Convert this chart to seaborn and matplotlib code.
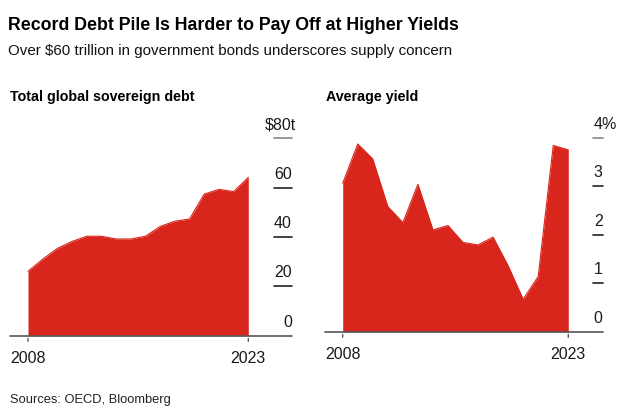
import matplotlib
matplotlib.use("Agg")
import matplotlib.pyplot as plt
import matplotlib.transforms as mtransforms
import seaborn as sns
import pandas as pd

years = list(range(2008, 2024))
debt = [26.1, 31.0, 35.4, 38.2, 40.3, 40.3, 39.2, 39.2, 40.3, 44.3, 46.4, 47.3, 57.4, 59.3, 58.4, 64.2]
yield_pct = [3.06, 3.87, 3.56, 2.58, 2.25, 3.04, 2.10, 2.19, 1.84, 1.79, 1.95, 1.36, 0.67, 1.14, 3.84, 3.75]

debt_ticks = [0, 20, 40, 60, 80]
yield_ticks = [0, 1, 2, 3, 4]
xtick_years = [2008, 2023]

title = "Record Debt Pile Is Harder to Pay Off at Higher Yields"
subtitle = "Over $60 trillion in government bonds underscores supply concern"
left_title = "Total global sovereign debt"
right_title = "Average yield"
source = "Sources: OECD, Bloomberg"

sns.set_theme(style="white")
plt.rcParams["font.family"] = ["Liberation Sans", "DejaVu Sans"]

RED = "#d9261c"
DARK = "#1a1a1a"
FS = 11.5
EM = FS * 100 / 72  # pixels per em
W, H = 626, 414
fig = plt.figure(figsize=(W / 100, H / 100), dpi=100)
fig.patch.set_facecolor("white")


def px_axes(l, r, top, bottom):
    return fig.add_axes([l / W, (H - bottom) / H, (r - l) / W, (bottom - top) / H])


def draw_panel(ax, x, y, xlim, ylim, ticks, prefix, suffix, suffix_em, tick_start):
    df = pd.DataFrame({"year": x, "value": y})
    ax.fill_between(df["year"], 0, df["value"], color=RED, linewidth=0, zorder=2)
    sns.lineplot(data=df, x="year", y="value", ax=ax, color=RED, linewidth=0.8, zorder=3)
    ax.set_xlim(*xlim)
    ax.set_ylim(*ylim)
    ax.axis("off")
    trans = mtransforms.blended_transform_factory(ax.transAxes, ax.transData)
    ax.plot([0, 1], [0, 0], transform=trans, color="#555555", lw=1.2, clip_on=False, zorder=4)
    for i, t in enumerate(ticks):
        last = i == len(ticks) - 1
        if t != 0:
            col = "#888888" if last else "#222222"
            ax.plot([tick_start, 1.0], [t, t], transform=trans, color=col, lw=1.2, clip_on=False)
        label = f"{prefix}{t}{suffix}" if last else str(t)
        dx = suffix_em * EM if last else 0
        off = mtransforms.offset_copy(trans, fig=fig, x=dx, y=7, units="dots")
        ax.text(1.0, t, label, transform=off, ha="right", va="bottom",
                fontsize=FS, color=DARK)
    transx = mtransforms.blended_transform_factory(ax.transData, ax.transAxes)
    for yr in xtick_years:
        ax.annotate("", xy=(yr, 0), xycoords=transx, xytext=(0, -6),
                    textcoords="offset points",
                    arrowprops=dict(arrowstyle="-", color="#555555", lw=1))
        ax.annotate(str(yr), xy=(yr, 0), xycoords=transx, xytext=(0, -14),
                    textcoords="offset pixels", ha="center", va="top",
                    fontsize=FS, color=DARK)


axL = px_axes(10, 292, 139.3, 336.7)
xl_left = 2008 - 18 / 14.69
xl_right = 2023 + (292 - 248.3) / 14.69
draw_panel(axL, years, debt, (xl_left, xl_right), (0, 80), debt_ticks, "$", "t", 0.278,
           (274 - 10) / 282)

axR = px_axes(325, 602.7, 138.7, 332.7)
xr_left = 2008 - 17.7 / 15.04
xr_right = 2023 + (602.7 - 568.3) / 15.04
draw_panel(axR, years, yield_pct, (xr_left, xr_right), (0, 4), yield_ticks, "", "%", 0.889,
           (592.7 - 325) / 277.7)

fig.text(8 / W, 1 - 25 / H, title, fontsize=12.8, fontweight="bold", color="#000000",
         ha="left", va="center")
fig.text(8 / W, 1 - 51 / H, subtitle, fontsize=10.9, color="#111111", ha="left",
         va="center")
fig.text(10 / W, 1 - 97 / H, left_title, fontsize=10.3, fontweight="bold", color="#000000",
         ha="left", va="center")
fig.text(326 / W, 1 - 97 / H, right_title, fontsize=10.3, fontweight="bold", color="#000000",
         ha="left", va="center")
fig.text(10 / W, 1 - 400 / H, source, fontsize=9.3, color="#222222", ha="left", va="center")

fig.savefig("out.png", dpi=100, facecolor="white")
